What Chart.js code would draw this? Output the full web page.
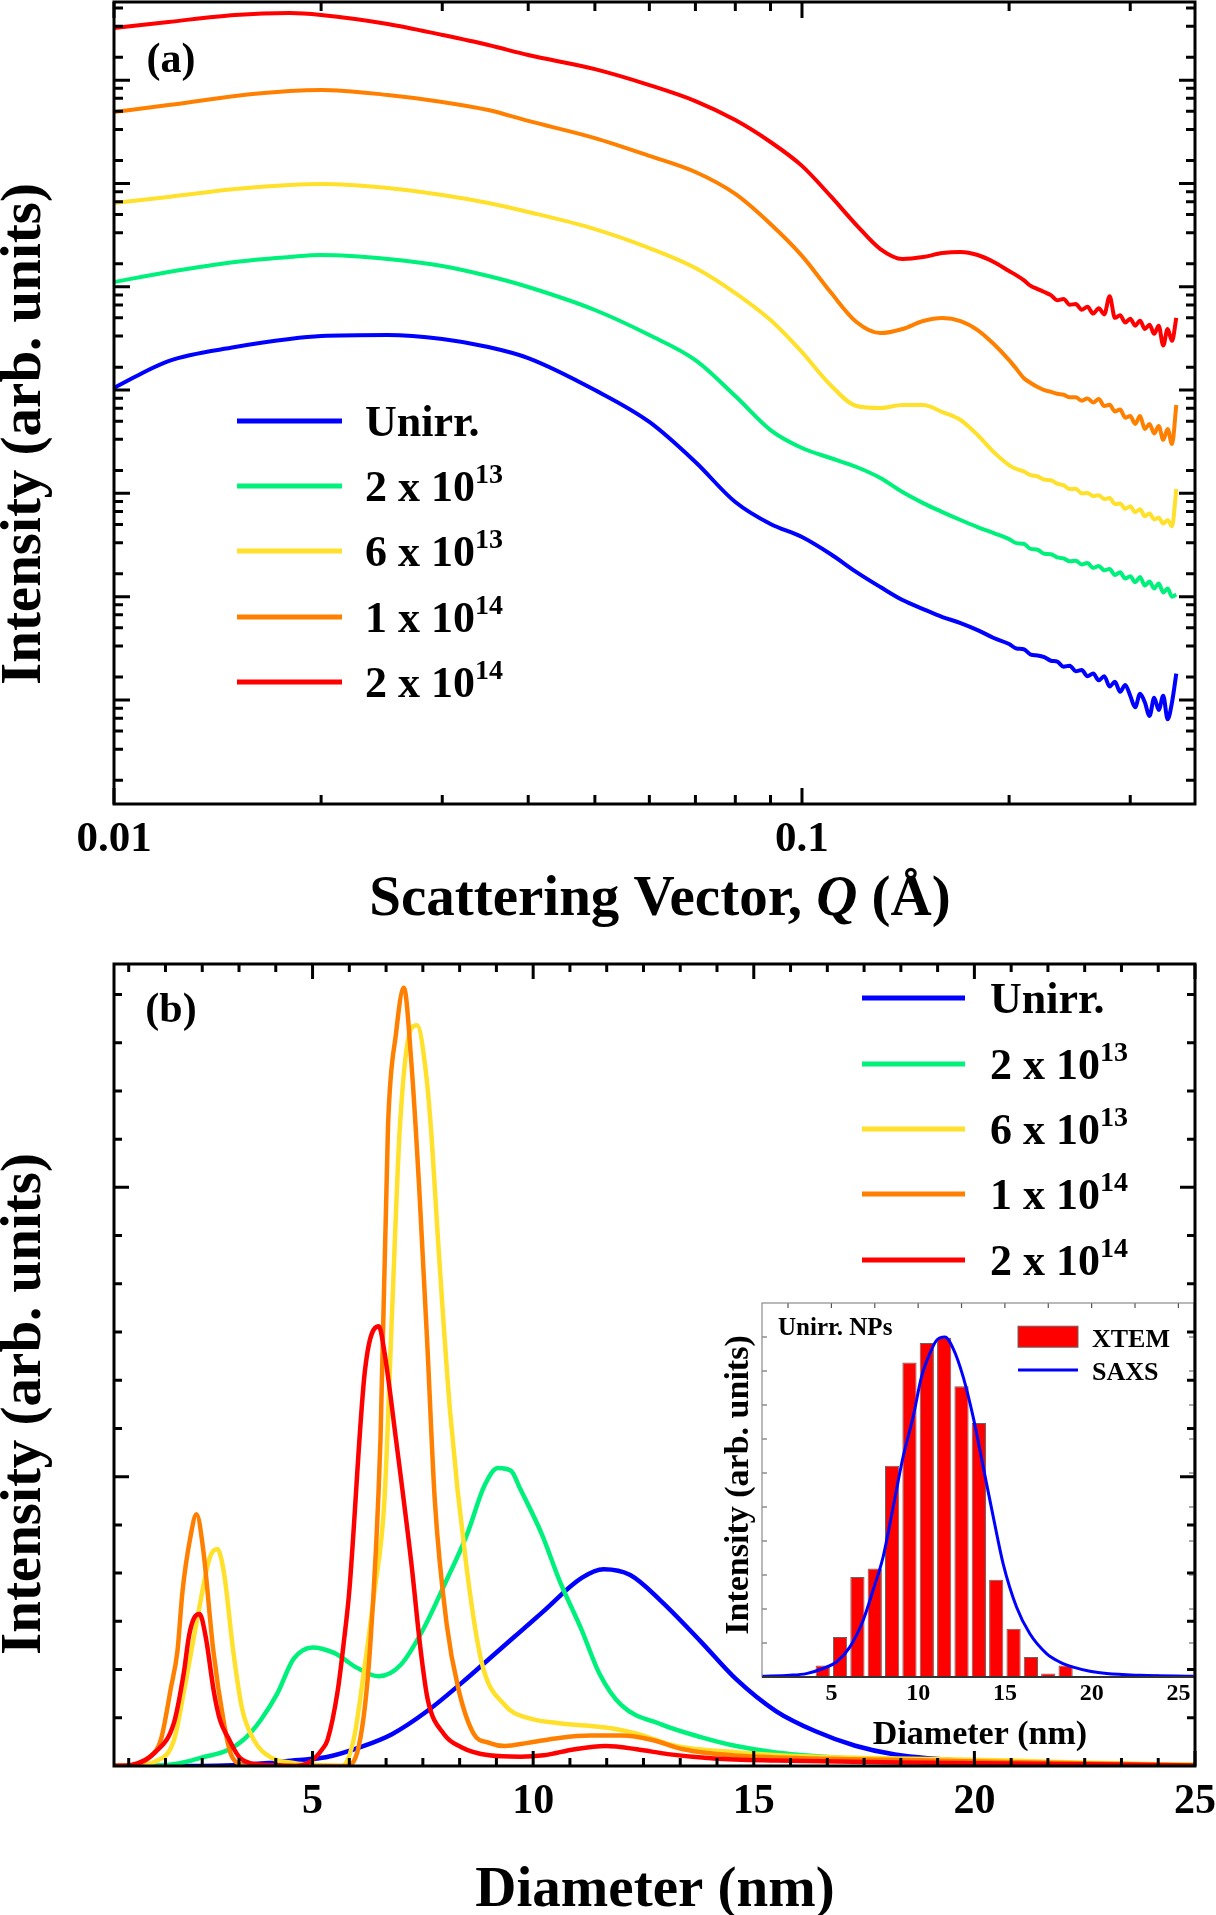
<!DOCTYPE html>
<html lang="en">
<head>
<meta charset="UTF-8">
<title>SAXS - Intensity and size distributions</title>
<script src="https://cdn.jsdelivr.net/npm/chart.js"></script>
<style>
  html, body { margin: 0; padding: 0; background: #fff; }
  #page { position: relative; width: 1216px; height: 1915px; overflow: hidden; }
  canvas { position: absolute; }
</style>
</head>
<body>
<div id="page">
  <canvas id="chartA" width="1216" height="950" style="left:0;top:0"></canvas>
  <canvas id="chartInset" width="500" height="470" style="left:700px;top:1290px"></canvas>
  <canvas id="chartB" width="1216" height="975" style="left:0;top:940px"></canvas>
</div>

<script>
const FONT = '"Liberation Serif", "Times New Roman", Times, serif';

// ---------- panel (a): scattering intensity vs Q ----------
const qValues = [0.010, 0.012, 0.015, 0.018, 0.020, 0.025, 0.030, 0.035, 0.040, 0.050,
                 0.060, 0.070, 0.080, 0.090, 0.100, 0.110, 0.120, 0.130, 0.140, 0.150,
                 0.160, 0.170, 0.180, 0.190,
                 0.200, 0.205, 0.210, 0.215, 0.220, 0.225, 0.230, 0.235, 0.240, 0.245,
                 0.250, 0.255, 0.260, 0.265, 0.270, 0.275, 0.280, 0.285, 0.290, 0.295,
                 0.300, 0.305, 0.310, 0.315, 0.320, 0.325, 0.330, 0.335, 0.340, 0.345, 0.350];
const iUnirr = [1.05e3, 1.91e3, 2.61e3, 3.12e3, 3.33e3, 3.41e3, 3.12e3, 2.61e3, 2.04e3, 1.00e3,
                491, 201, 82.4, 50.5, 37.8, 25.9, 17.3, 12.4, 9.27, 7.59,
                6.35, 5.56, 4.75, 3.98,
                3.48, 3.15, 3.10, 2.75, 2.70, 2.60, 2.40, 2.35, 2.10, 2.15,
                1.90, 1.95, 1.70, 1.80, 1.55, 1.70, 1.35, 1.50, 1.20, 1.40,
                1.10, 0.85, 1.15, 0.95, 0.70, 1.05, 0.80, 1.10, 0.65, 0.95, 1.80];
const i2e13 = [1.11e4, 1.39e4, 1.74e4, 1.94e4, 2.03e4, 1.86e4, 1.59e4, 1.27e4, 9.95e3, 5.96e3,
               3.41e3, 1.95e3, 875, 410, 275, 220, 180, 141, 103, 80.5,
               65.9, 55.2, 47.2, 41.3,
               36.1, 33.0, 32.5, 29.0, 28.5, 26.0, 25.8, 24.0, 23.5, 22.0,
               22.3, 20.5, 21.2, 19.0, 19.8, 18.0, 18.5, 16.2, 17.2, 15.0,
               15.8, 13.8, 15.5, 12.8, 14.0, 12.0, 13.4, 11.0, 12.0, 10.0, 10.5];
const i6e13 = [6.47e4, 7.40e4, 8.83e4, 9.66e4, 9.89e4, 9.04e4, 7.73e4, 6.47e4, 5.30e4, 3.62e4,
               2.37e4, 1.52e4, 8.69e3, 4.76e3, 2.33e3, 1.12e3, 701, 670, 716, 716,
               612, 513, 367, 251,
               188, 172, 163, 150, 146, 136, 134, 124, 120, 110,
               111, 100, 101, 94, 96, 88, 90, 79, 80, 71,
               75, 66, 70, 60, 64, 56, 58, 51, 55, 48, 110];
const i1e14 = [4.92e5, 5.74e5, 7.03e5, 7.85e5, 8.04e5, 7.18e5, 6.15e5, 5.14e5, 4.03e5, 2.75e5,
               1.85e5, 1.29e5, 7.91e4, 4.05e4, 1.99e4, 8.89e3, 4.56e3, 3.56e3, 3.90e3, 4.66e3,
               4.98e3, 4.66e3, 3.81e3, 2.79e3,
               1950, 1600, 1310, 1170, 1070, 1000, 960, 920, 900, 850,
               850, 790, 830, 760, 820, 700, 720, 620, 650, 540,
               560, 470, 560, 420, 470, 380, 450, 330, 420, 300, 716];
const i2e14 = [3.20e6, 3.66e6, 4.28e6, 4.47e6, 4.28e6, 3.50e6, 2.74e6, 2.19e6, 1.75e6, 1.28e6,
               8.97e5, 6.28e5, 4.11e5, 2.52e5, 1.48e5, 7.57e4, 3.96e4, 2.32e4, 1.86e4, 1.94e4,
               2.12e4, 2.17e4, 2.03e4, 1.74e4,
               14200, 12900, 11600, 10200, 9500, 8900, 8300, 7400, 7600, 6700,
               6800, 6000, 6400, 5500, 6200, 5400, 8100, 5000, 5300, 4500,
               4900, 4200, 4700, 3900, 4300, 3500, 4200, 2700, 3900, 3000, 5000];

const seriesNames  = ['Unirr.', '2 x 10^13', '6 x 10^13', '1 x 10^14', '2 x 10^14'];
const seriesColors = ['#0000ff', '#00f07c', '#ffe02a', '#ff8000', '#ff0000'];

const qMajorTicks = [0.01, 0.1];
const qMinorTicks = [0.02, 0.03, 0.04, 0.05, 0.06, 0.07, 0.08, 0.09, 0.2, 0.3];
const qLabelTicks = [0.01, 0.1];

// ---------- panel (b): diameter distributions ----------
const dUnirr = [0.5, 2.5, 4.0, 4.6, 5.3, 6.1, 6.8, 7.6, 8.4, 9.0, 9.6, 10.2, 11.1, 11.6, 12.2,
                12.9, 13.8, 14.6, 15.5, 16.4, 17.3, 18.2, 20.1, 22.5, 25];
const pUnirr = [0, 0, 0.01, 0.02, 0.03, 0.066, 0.11, 0.19, 0.29, 0.37, 0.45, 0.53, 0.65, 0.68, 0.66,
                0.57, 0.43, 0.30, 0.19, 0.12, 0.07, 0.04, 0.015, 0.005, 0.001];
const d2e13 = [0.5, 1.5, 2.0, 2.5, 3.08, 3.5, 3.83, 4.2, 4.57, 5.0, 5.5, 6.0, 6.5, 7.0, 7.5,
               8.0, 8.5, 8.9, 9.2, 9.5, 9.7, 10.2, 10.6, 11.1, 11.5, 12.0, 12.9, 13.8, 14.6,
               15.5, 17.3, 20, 22.5, 25];
const p2e13 = [0, 0.002, 0.01, 0.03, 0.055, 0.10, 0.16, 0.25, 0.37, 0.41, 0.39, 0.34, 0.31, 0.35, 0.47,
               0.63, 0.80, 0.97, 1.03, 1.02, 0.96, 0.80, 0.64, 0.47, 0.32, 0.21, 0.144, 0.10, 0.069,
               0.047, 0.026, 0.014, 0.008, 0.004];
const d6e13 = [0.5, 1.0, 1.43, 1.86, 2.1, 2.4, 2.67, 2.84, 3.0, 3.2, 3.4, 3.67, 4.05, 4.6, 5.0,
               5.66, 5.93, 6.16, 6.4, 6.63, 6.8, 6.98, 7.24, 7.37, 7.56, 7.68, 7.86, 8.12, 8.48,
               8.83, 9.36, 9.88, 10.59, 11.64, 12.35, 13.23, 14.64, 16.4, 18.2, 20.8, 22.56, 25];
const p6e13 = [0, 0.002, 0.015, 0.09, 0.27, 0.52, 0.72, 0.75, 0.66, 0.40, 0.20, 0.09, 0.03, 0.01, 0.004,
               0, 0.09, 0.32, 0.60, 0.92, 1.56, 2.21, 2.55, 2.56, 2.41, 2.21, 1.78, 1.22, 0.70,
               0.36, 0.21, 0.166, 0.148, 0.133, 0.112, 0.069, 0.047, 0.032, 0.026, 0.019, 0.011, 0.004];
const d1e14 = [0.5, 1.0, 1.3, 1.56, 1.79, 1.94, 2.05, 2.23, 2.37, 2.52, 2.75, 2.99, 3.14, 3.3, 3.6,
               5.75, 6.05, 6.3, 6.54, 6.71, 6.89, 7.07, 7.24, 7.42, 7.6, 7.77, 8.04, 8.3, 8.65,
               9.0, 9.36, 9.88, 10.59, 11.3, 12.0, 12.7, 13.4, 14.5, 16.4, 19.0, 21.7, 25];
const p1e14 = [0, 0.005, 0.03, 0.09, 0.27, 0.40, 0.60, 0.79, 0.87, 0.75, 0.40, 0.15, 0.045, 0.01, 0,
               0, 0.07, 0.40, 1.13, 2.21, 2.53, 2.69, 2.43, 1.99, 1.46, 0.92, 0.49, 0.27, 0.112,
               0.08, 0.069, 0.08, 0.097, 0.105, 0.105, 0.09, 0.058, 0.037, 0.026, 0.019, 0.011, 0.002];
const d2e14 = [0.5, 0.9, 1.43, 1.86, 2.08, 2.2, 2.31, 2.44, 2.58, 2.76, 2.9, 3.08, 3.37, 3.9, 4.6,
               4.95, 5.22, 5.34, 5.57, 5.71, 5.83, 6.19, 6.5, 6.63, 6.89, 7.24, 7.45, 7.61, 7.98,
               8.36, 9.0, 9.71, 10.24, 10.94, 11.64, 12.35, 13.05, 14.1, 15.5, 19.0, 25];
const p2e14 = [0, 0.004, 0.047, 0.15, 0.32, 0.45, 0.51, 0.525, 0.445, 0.26, 0.16, 0.10, 0.026, 0.004, 0,
               0.015, 0.058, 0.09, 0.26, 0.43, 0.60, 1.37, 1.52, 1.43, 1.13, 0.70, 0.40, 0.23, 0.11,
               0.066, 0.037, 0.032, 0.037, 0.058, 0.069, 0.058, 0.041, 0.026, 0.019, 0.011, 0.002];

const diamLabelTicks = [5, 10, 15, 20, 25];

// ---------- inset: unirradiated NPs, XTEM histogram vs SAXS ----------
const binCentres = [4.5, 5.5, 6.5, 7.5, 8.5, 9.5, 10.5, 11.5, 12.5, 13.5, 14.5, 15.5, 16.5, 17.5, 18.5, 23.5];
const xtemCounts = [0.34, 1.18, 2.94, 3.19, 6.21, 9.25, 9.82, 9.98, 8.55, 7.47, 2.86, 1.42, 0.59, 0.10, 0.34, 0.08];
const saxsD = [1.0, 2.6, 3.56, 4.52, 5.29, 6.06, 6.83, 7.40, 7.98, 8.56, 9.13, 9.71, 10.19, 10.67, 11.06,
               11.54, 12.02, 12.6, 13.17, 13.75, 14.33, 14.9, 15.67, 16.44, 17.4, 18.17, 18.94, 19.9,
               20.87, 22.79, 25.9];
const saxsP = [0.02, 0.05, 0.10, 0.25, 0.44, 0.88, 1.67, 2.55, 3.53, 5.0, 6.47, 7.65, 8.82, 9.51, 9.90,
               10.0, 9.66, 8.82, 7.65, 6.18, 4.71, 3.33, 2.06, 1.27, 0.69, 0.44, 0.29, 0.17,
               0.10, 0.05, 0.02];
const insetLabelTicks = [5, 10, 15, 20, 25];


// ---------- helpers ----------
function stepList(from, to, step, skipEvery) {
  const out = [];
  for (let i = 1; from + i * step <= to + 1e-9; i++) {
    if (skipEvery && i % skipEvery === 0) continue;
    out.push(from + i * step);
  }
  return out;
}

// label "2 x 10^13" -> parts with superscript
function labelParts(label) {
  const [base, sup] = label.split('^');
  const parts = [{ t: base }];
  if (sup) parts.push({ t: sup, sup: true });
  return parts;
}

function drawRich(ctx, it) {
  const size = it.size;
  const supSize = it.supSize || Math.round(size * 0.62);
  const fontFor = p => (p.italic ? 'italic ' : '') + 'bold ' + (p.sup ? supSize : size) + 'px ' + FONT;
  let w = 0;
  it.parts.forEach(p => { ctx.font = fontFor(p); w += ctx.measureText(p.t).width; });
  ctx.save();
  ctx.translate(it.x, it.y);
  if (it.rot) ctx.rotate(it.rot);
  ctx.fillStyle = it.color || '#000';
  ctx.textAlign = 'left';
  ctx.textBaseline = 'alphabetic';
  let x = it.align === 'center' ? -w / 2 : 0;
  it.parts.forEach(p => {
    ctx.font = fontFor(p);
    ctx.fillText(p.t, x, p.sup ? -(it.rise || 0) : 0);
    x += ctx.measureText(p.t).width;
  });
  ctx.restore();
}

// frame round the plot area with inward ticks on every side
const frameTicks = {
  id: 'frameTicks',
  afterDatasetsDraw(chart, args, o) {
    const { ctx, chartArea: a } = chart;
    const sx = chart.scales.x, sy = chart.scales.y;
    ctx.save();
    ctx.strokeStyle = o.tickColor;
    ctx.lineWidth = o.tickWidth;
    ctx.lineCap = 'butt';
    ctx.beginPath();
    const xTicks = (vals, len, sides) => vals.forEach(v => {
      const p = sx.getPixelForValue(v);
      if (p < a.left - 0.5 || p > a.right + 0.5) return;
      if (sides.includes('b')) { ctx.moveTo(p, a.bottom); ctx.lineTo(p, a.bottom - len); }
      if (sides.includes('t')) { ctx.moveTo(p, a.top); ctx.lineTo(p, a.top + len); }
    });
    const yTicks = (vals, len, sides) => vals.forEach(v => {
      const p = sy.getPixelForValue(v);
      if (p < a.top - 0.5 || p > a.bottom + 0.5) return;
      if (sides.includes('l')) { ctx.moveTo(a.left, p); ctx.lineTo(a.left + len, p); }
      if (sides.includes('r')) { ctx.moveTo(a.right, p); ctx.lineTo(a.right - len, p); }
    });
    xTicks(o.xMajor || [], o.majorLen, o.xSides);
    xTicks(o.xMinor || [], o.minorLen, o.xSides);
    yTicks(o.yMajor || [], o.majorLen, o.ySides);
    yTicks(o.yMinor || [], o.minorLen, o.ySides);
    ctx.stroke();
    ctx.strokeStyle = o.frameColor;
    ctx.lineWidth = o.frameWidth;
    ctx.strokeRect(a.left, a.top, a.right - a.left, a.bottom - a.top);
    if (o.bottomColor) {
      ctx.strokeStyle = o.bottomColor;
      ctx.lineWidth = o.bottomWidth;
      ctx.beginPath();
      ctx.moveTo(a.left, a.bottom); ctx.lineTo(a.right, a.bottom);
      ctx.stroke();
    }
    ctx.restore();
  }
};

// free text: axis titles, panel letters
const textLayer = {
  id: 'textLayer',
  afterDraw(chart, args, o) {
    (o.items || []).forEach(it => drawRich(chart.ctx, it));
  }
};

// legend with superscripts, line or box samples
const supLegend = {
  id: 'supLegend',
  afterDraw(chart, args, o) {
    const ctx = chart.ctx;
    chart.data.datasets.forEach((ds, i) => {
      const y = o.rows[i];
      ctx.save();
      if (ds.type === 'bar') {
        ctx.fillStyle = ds.backgroundColor;
        ctx.fillRect(o.x1, y - o.boxH / 2, o.x2 - o.x1, o.boxH);
        ctx.strokeStyle = ds.borderColor;
        ctx.lineWidth = 1;
        ctx.strokeRect(o.x1, y - o.boxH / 2, o.x2 - o.x1, o.boxH);
      } else {
        ctx.strokeStyle = ds.borderColor;
        ctx.lineWidth = o.lineWidth;
        ctx.beginPath();
        ctx.moveTo(o.x1, y); ctx.lineTo(o.x2, y);
        ctx.stroke();
      }
      ctx.restore();
      drawRich(ctx, { parts: labelParts(ds.label), x: o.textX, y: y + o.baseOff,
                      size: o.size, supSize: o.supSize, rise: o.rise });
    });
  }
};

function hiddenAxis(extra) {
  return Object.assign({
    grid: { display: false, drawTicks: false },
    border: { display: false }
  }, extra);
}

// ---------- chart (a) ----------
const seriesA = [iUnirr, i2e13, i6e13, i1e14, i2e14];
const yMajorA = [1, 10, 100, 1e3, 1e4, 1e5, 1e6];
const yMinorA = [];
[1, 10, 100, 1e3, 1e4, 1e5, 1e6, 1e7].forEach(dec => {
  for (let k = 1; k <= 5; k++) yMinorA.push(dec * k / 6);
});

new Chart(document.getElementById('chartA'), {
  type: 'line',
  data: {
    datasets: seriesA.map((arr, i) => ({
      label: seriesNames[i],
      data: qValues.map((q, j) => ({ x: q, y: arr[j] })),
      borderColor: seriesColors[i],
      borderWidth: 4,
      pointRadius: 0,
      cubicInterpolationMode: 'monotone',
      fill: false
    }))
  },
  options: {
    responsive: false,
    animation: false,
    devicePixelRatio: 1,
    layout: { padding: { top: 2, right: 21, left: 0, bottom: 0 } },
    scales: {
      x: hiddenAxis({
        type: 'logarithmic', min: 0.01, max: 0.3726,
        afterBuildTicks: s => { s.ticks = qLabelTicks.map(v => ({ value: v })); },
        ticks: {
          autoSkip: false, maxRotation: 0, padding: 10, color: '#000',
          font: { family: FONT, size: 43, weight: 'bold' },
          callback: v => String(v)
        },
        afterFit: s => { s.height = 146; s.paddingLeft = 0; s.paddingRight = 0; }
      }),
      y: hiddenAxis({
        type: 'logarithmic', min: 0.0984, max: 5.71e6,
        ticks: { display: false },
        afterFit: s => { s.width = 114; }
      })
    },
    plugins: {
      legend: { display: false },
      tooltip: { enabled: false },
      frameTicks: {
        xMajor: qMajorTicks, xMinor: qMinorTicks, yMajor: yMajorA, yMinor: yMinorA,
        majorLen: 16, minorLen: 9, xSides: 'bt', ySides: 'lr',
        tickColor: '#000', tickWidth: 3, frameColor: '#000', frameWidth: 3
      },
      supLegend: { rows: [421, 486, 551, 617, 682], x1: 237, x2: 342, textX: 365,
                   baseOff: 15, size: 44, supSize: 28, rise: 18, lineWidth: 5 },
      textLayer: {
        items: [
          { parts: [{ t: '(a)' }], x: 171, y: 72, size: 42, align: 'center' },
          { parts: [{ t: 'Intensity (arb. units)' }], x: 40, y: 434, size: 57, align: 'center', rot: -Math.PI / 2 },
          { parts: [{ t: 'Scattering Vector, ' }, { t: 'Q', italic: true }, { t: ' (\u00C5)' }],
            x: 660, y: 915, size: 57, align: 'center' }
        ]
      }
    }
  },
  plugins: [frameTicks, supLegend, textLayer]
});

// ---------- chart (b) ----------
const seriesB = [[dUnirr, pUnirr], [d2e13, p2e13], [d6e13, p6e13], [d1e14, p1e14], [d2e14, p2e14]];

new Chart(document.getElementById('chartB'), {
  type: 'line',
  data: {
    datasets: seriesB.map(([xs, ys], i) => ({
      label: seriesNames[i],
      data: xs.map((x, j) => ({ x: x, y: ys[j] })),
      borderColor: seriesColors[i],
      borderWidth: 4.5,
      pointRadius: 0,
      cubicInterpolationMode: 'monotone',
      fill: false,
      order: 5 - i
    }))
  },
  options: {
    responsive: false,
    animation: false,
    devicePixelRatio: 1,
    layout: { padding: { top: 24, right: 21, left: 0, bottom: 0 } },
    scales: {
      x: hiddenAxis({
        type: 'linear', min: 0.5, max: 25,
        afterBuildTicks: s => { s.ticks = diamLabelTicks.map(v => ({ value: v })); },
        ticks: {
          autoSkip: false, maxRotation: 0, padding: 11, color: '#000',
          font: { family: FONT, size: 42, weight: 'bold' }
        },
        afterFit: s => { s.height = 149; s.paddingLeft = 0; s.paddingRight = 0; }
      }),
      y: hiddenAxis({
        type: 'linear', min: 0, max: 2.772,
        ticks: { display: false },
        afterFit: s => { s.width = 114; }
      })
    },
    plugins: {
      legend: { display: false },
      tooltip: { enabled: false },
      frameTicks: {
        xMajor: diamLabelTicks, xMinor: stepList(0, 25, 5 / 6, 6),
        yMajor: [1, 2], yMinor: stepList(0, 2.772, 1 / 6, 6),
        majorLen: 15, minorLen: 8, xSides: 'bt', ySides: 'lr',
        tickColor: '#000', tickWidth: 3, frameColor: '#000', frameWidth: 3
      },
      supLegend: { rows: [58, 124, 189, 254, 320], x1: 862, x2: 965, textX: 990,
                   baseOff: 15, size: 44, supSize: 28, rise: 18, lineWidth: 5 },
      textLayer: {
        items: [
          { parts: [{ t: '(b)' }], x: 171, y: 82, size: 42, align: 'center' },
          { parts: [{ t: 'Intensity (arb. units)' }], x: 40, y: 464, size: 57, align: 'center', rot: -Math.PI / 2 },
          { parts: [{ t: 'Diameter (nm)' }], x: 655, y: 966, size: 57, align: 'center' }
        ]
      }
    }
  },
  plugins: [frameTicks, supLegend, textLayer]
});

// ---------- inset ----------
new Chart(document.getElementById('chartInset'), {
  type: 'bar',
  data: {
    datasets: [
      {
        type: 'bar',
        label: 'XTEM',
        data: binCentres.map((x, j) => ({ x: x, y: xtemCounts[j] })),
        backgroundColor: '#ff0000',
        borderColor: '#666666',
        borderWidth: 1,
        barPercentage: 0.82,
        categoryPercentage: 1,
        order: 2
      },
      {
        type: 'line',
        label: 'SAXS',
        data: saxsD.map((x, j) => ({ x: x, y: saxsP[j] })),
        borderColor: '#0000ff',
        borderWidth: 3,
        pointRadius: 0,
        cubicInterpolationMode: 'monotone',
        fill: false,
        order: 1
      }
    ]
  },
  options: {
    responsive: false,
    animation: false,
    devicePixelRatio: 1,
    layout: { padding: { top: 13, right: 6, left: 0, bottom: 0 } },
    scales: {
      x: hiddenAxis({
        type: 'linear', min: 1, max: 25.9, offset: false,
        afterBuildTicks: s => { s.ticks = insetLabelTicks.map(v => ({ value: v })); },
        ticks: {
          autoSkip: false, maxRotation: 0, padding: 2, color: '#000',
          font: { family: FONT, size: 24, weight: 'bold' }
        },
        afterFit: s => { s.height = 83; s.paddingLeft = 0; s.paddingRight = 0; }
      }),
      y: hiddenAxis({
        type: 'linear', min: 0, max: 11,
        ticks: { display: false },
        afterFit: s => { s.width = 62; }
      })
    },
    plugins: {
      legend: { display: false },
      tooltip: { enabled: false },
      frameTicks: {
        xMajor: stepList(0, 25.9, 2.5), xMinor: [],
        yMajor: stepList(0, 10.5, 1), yMinor: [],
        majorLen: 5, minorLen: 3, xSides: 't', ySides: 'lr',
        tickColor: '#555555', tickWidth: 1.2, frameColor: '#8a8a8a', frameWidth: 1.2,
        bottomColor: '#333333', bottomWidth: 2
      },
      supLegend: { rows: [46.7, 80], x1: 318, x2: 378, textX: 392, boxH: 21,
                   baseOff: 10, size: 26, supSize: 16, rise: 8, lineWidth: 3 },
      textLayer: {
        items: [
          { parts: [{ t: 'Unirr. NPs' }], x: 78, y: 45, size: 25 },
          { parts: [{ t: 'Intensity (arb. units)' }], x: 48, y: 195, size: 34, align: 'center', rot: -Math.PI / 2 },
          { parts: [{ t: 'Diameter (nm)' }], x: 280, y: 454, size: 34, align: 'center' }
        ]
      }
    }
  },
  plugins: [frameTicks, supLegend, textLayer]
});
</script>
</body>
</html>
